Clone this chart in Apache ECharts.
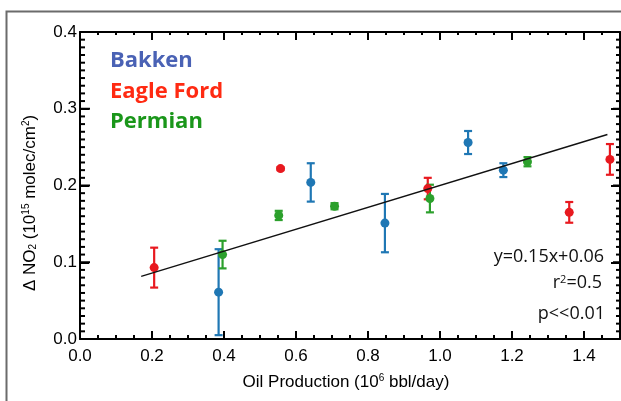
<!DOCTYPE html>
<html>
<head>
<meta charset="utf-8">
<script src="https://cdn.jsdelivr.net/npm/echarts@6/dist/echarts.min.js"></script>
<style>html,body{margin:0;padding:0;background:#fff;}#c{width:621px;height:401px;}#err{position:absolute;left:300px;top:0;font:10px sans-serif;color:#c00;}</style>
</head>
<body>
<div id="c"></div><div id="err"></div>
<script>
window.onerror = function (m) { document.getElementById('err').textContent = 'ERR: ' + m; };
// ---- data ----
const bakkenX = [0.385, 0.641, 0.847, 1.078, 1.176];
const bakkenY = [0.061, 0.204, 0.151, 0.256, 0.220];
const bakkenErr = [0.056, 0.025, 0.038, 0.015, 0.009];

const eagleX = [0.206, 0.557, 0.966, 1.359, 1.472];
const eagleY = [0.093, 0.222, 0.196, 0.165, 0.234];
const eagleErr = [0.026, 0.002, 0.014, 0.0135, 0.020];

const permX = [0.396, 0.552, 0.707, 0.972, 1.243];
const permY = [0.110, 0.161, 0.173, 0.183, 0.231];
const permErr = [0.018, 0.006, 0.004, 0.018, 0.006];

const fitX = [0.17, 1.465];
const fitY = [0.0815, 0.2665];

const regionNames = ['Bakken', 'Eagle Ford', 'Permian'];
const fitText = ['y=0.15x+0.06', 'r²=0.5', 'p<<0.01'];

const xTickVals = [0, 0.05, 0.1, 0.15, 0.2, 0.25, 0.3, 0.35, 0.4, 0.45, 0.5, 0.55, 0.6, 0.65, 0.7, 0.75, 0.8, 0.85, 0.9, 0.95, 1.0, 1.05, 1.1, 1.15, 1.2, 1.25, 1.3, 1.35, 1.4, 1.45, 1.5];
const yTickVals = [0, 0.01, 0.02, 0.03, 0.04, 0.05, 0.06, 0.07, 0.08, 0.09, 0.1, 0.11, 0.12, 0.13, 0.14, 0.15, 0.16, 0.17, 0.18, 0.19, 0.2, 0.21, 0.22, 0.23, 0.24, 0.25, 0.26, 0.27, 0.28, 0.29, 0.3, 0.31, 0.32, 0.33, 0.34, 0.35, 0.36, 0.37, 0.38, 0.39, 0.4];

const C_BLUE = '#1f77b4', C_RED = '#e8191f', C_GREEN = '#2ca02c';
const T_BLUE = '#4a62b5', T_RED = '#ff2a12', T_GREEN = '#1a961a';
const tickFont = 'Liberation Sans';

function errSeries(x, y, e, color) {
  return {
    type: 'custom', xAxisIndex: 0, yAxisIndex: 0,
    data: x.map((v, i) => [v, y[i], e[i]]),
    encode: { x: 0, y: 1 },
    renderItem: function (params, api) {
      const xv = api.value(0), yv = api.value(1), ev = api.value(2);
      const top = api.coord([xv, yv + ev]);
      const bot = api.coord([xv, yv - ev]);
      const hw = 4;
      const st = { stroke: color, lineWidth: 2.2 };
      return {
        type: 'group',
        children: [
          { type: 'line', shape: { x1: top[0], y1: top[1], x2: bot[0], y2: bot[1] }, style: st },
          { type: 'line', shape: { x1: top[0] - hw, y1: top[1], x2: top[0] + hw, y2: top[1] }, style: st },
          { type: 'line', shape: { x1: bot[0] - hw, y1: bot[1], x2: bot[0] + hw, y2: bot[1] }, style: st }
        ]
      };
    },
    z: 3
  };
}
function dotSeries(x, y, color) {
  return {
    type: 'scatter', xAxisIndex: 0, yAxisIndex: 0,
    data: x.map((v, i) => [v, y[i]]),
    symbol: 'circle', symbolSize: 9,
    itemStyle: { color: color, opacity: 1 },
    z: 4
  };
}

// x ticks: one item per tick value, drawn like the error bars
const xTickSeries = {
  type: 'custom', xAxisIndex: 0, yAxisIndex: 0, silent: true, z: 6,
  data: xTickVals.map(v => [v, 0]),
  encode: { x: 0, y: 1 },
  renderItem: function (params, api) {
    const v = api.value(0);
    const p = api.coord([v, 0]);
    const q = api.coord([v, 0.4]);
    const major = Math.abs(v / 0.2 - Math.round(v / 0.2)) < 1e-6;
    const lb = major ? 8 : 4, lt = major ? 7 : 3;
    const st = { stroke: '#000', lineWidth: 2 };
    return { type: 'group', children: [
      { type: 'line', shape: { x1: p[0], y1: p[1], x2: p[0], y2: p[1] - lb }, style: st },
      { type: 'line', shape: { x1: q[0], y1: q[1], x2: q[0], y2: q[1] + lt }, style: st }
    ] };
  }
};
const yTickSeries = {
  type: 'custom', xAxisIndex: 0, yAxisIndex: 0, silent: true, z: 6,
  data: yTickVals.map(v => [0, v]),
  encode: { x: 0, y: 1 },
  renderItem: function (params, api) {
    const v = api.value(1);
    const p = api.coord([0, v]);
    const q = api.coord([1.5, v]);
    const major = Math.abs(v / 0.1 - Math.round(v / 0.1)) < 1e-6;
    const ll = major ? 10 : 5, lr = major ? 7 : 4;
    const st = { stroke: '#000', lineWidth: 2 };
    return { type: 'group', children: [
      { type: 'line', shape: { x1: p[0], y1: p[1], x2: p[0] + ll, y2: p[1] }, style: st },
      { type: 'line', shape: { x1: q[0], y1: q[1], x2: q[0] - lr, y2: q[1] }, style: st }
    ] };
  }
};

function xAx(pos, labels) {
  return {
    type: 'value', position: pos, min: 0, max: 1.5, interval: 0.2,
    axisLine: { show: true, onZero: false, lineStyle: { color: '#000', width: 2 } },
    axisTick: { show: true, inside: true, length: 8, lineStyle: { color: '#000', width: 2 } },
    axisLabel: labels ? {
      show: true, margin: 9, color: '#000', fontFamily: tickFont, fontSize: 17,
      showMaxLabel: false,
      formatter: v => v.toFixed(1)
    } : { show: false },
    splitLine: { show: false }
  };
}
function yAx(pos, labels) {
  return {
    type: 'value', position: pos, min: 0, max: 0.4, interval: 0.1,
    axisLine: { show: true, onZero: false, lineStyle: { color: '#000', width: 2 } },
    axisTick: { show: true, inside: true, length: 9, lineStyle: { color: '#000', width: 2 } },
    axisLabel: labels ? {
      show: true, margin: 3, color: '#000', fontFamily: tickFont, fontSize: 17,
      formatter: v => v.toFixed(1)
    } : { show: false },
    splitLine: { show: false }
  };
}

const chart = echarts.init(document.getElementById('c'));

const graphics = [
  { type: 'polyline', shape: { points: [[6.5, 401], [6.5, 11.5], [621, 11.5]] }, style: { fill: null, stroke: '#6b6b6b', lineWidth: 2 }, silent: true },
  { type: 'text', x: 110, y: 61, style: { text: regionNames[0], fill: T_BLUE, font: 'bold 22px "Open Sans"', align: 'left', verticalAlign: 'middle' }, z: 10 },
  { type: 'text', x: 110, y: 91.5, style: { text: regionNames[1], fill: T_RED, font: 'bold 22px "Open Sans"', align: 'left', verticalAlign: 'middle' }, z: 10 },
  { type: 'text', x: 110, y: 122, style: { text: regionNames[2], fill: T_GREEN, font: 'bold 22px "Open Sans"', align: 'left', verticalAlign: 'middle' }, z: 10 },
  { type: 'text', x: 604, y: 256.5, style: { text: fitText[0], fill: '#111', font: '18px "Open Sans"', align: 'right', verticalAlign: 'middle' }, z: 10 },
  { type: 'text', x: 602, y: 283, style: {
      text: '{n|r}{s|2}{n|=0.5}', fill: '#111', align: 'right', verticalAlign: 'middle',
      rich: { n: { fontFamily: 'Open Sans', fontSize: 18, fill: '#111', verticalAlign: 'middle' }, s: { fontFamily: 'Open Sans', fontSize: 11, fill: '#111', verticalAlign: 'top' } } }, z: 10 },
  { type: 'text', x: 605, y: 313.5, style: { text: fitText[2], fill: '#111', font: '18px "Open Sans"', align: 'right', verticalAlign: 'middle' }, z: 10 },
  { type: 'text', x: 346, y: 382, style: {
      text: '{n|Oil Production (10}{s|6}{n| bbl/day)}', align: 'center', verticalAlign: 'middle',
      rich: { n: { fontFamily: tickFont, fontSize: 17, fill: '#000', verticalAlign: 'middle' }, s: { fontFamily: tickFont, fontSize: 10, fill: '#000', verticalAlign: 'top' } } }, z: 10 },
  { type: 'text', x: 30, y: 203, rotation: Math.PI / 2, style: {
      text: '{n|Δ NO}{b|2}{n| (10}{s|15}{n| molec/cm}{s|2}{n|)}', align: 'center', verticalAlign: 'middle',
      rich: { n: { fontFamily: tickFont, fontSize: 17, fill: '#000', verticalAlign: 'middle' }, s: { fontFamily: tickFont, fontSize: 10, fill: '#000', verticalAlign: 'top' }, b: { fontFamily: tickFont, fontSize: 10, fill: '#000', verticalAlign: 'bottom' } } }, z: 10 }
];

chart.setOption({
  animation: false,
  grid: { left: 80, right: 1, top: 32, bottom: 62 },
  xAxis: [xAx('bottom', true), xAx('top', false)],
  yAxis: [yAx('left', true), yAx('right', false)],
  graphic: graphics,
  series: [
    errSeries(bakkenX, bakkenY, bakkenErr, C_BLUE),
    errSeries(eagleX, eagleY, eagleErr, C_RED),
    errSeries(permX, permY, permErr, C_GREEN),
    dotSeries(bakkenX, bakkenY, C_BLUE),
    dotSeries(eagleX, eagleY, C_RED),
    dotSeries(permX, permY, C_GREEN),
    {
      type: 'line', xAxisIndex: 0, yAxisIndex: 0,
      data: fitX.map((v, i) => [v, fitY[i]]),
      symbol: 'none', lineStyle: { color: '#111', width: 1.4 }, z: 5
    },
    xTickSeries,
    yTickSeries
  ]
});
</script>
</body>
</html>
